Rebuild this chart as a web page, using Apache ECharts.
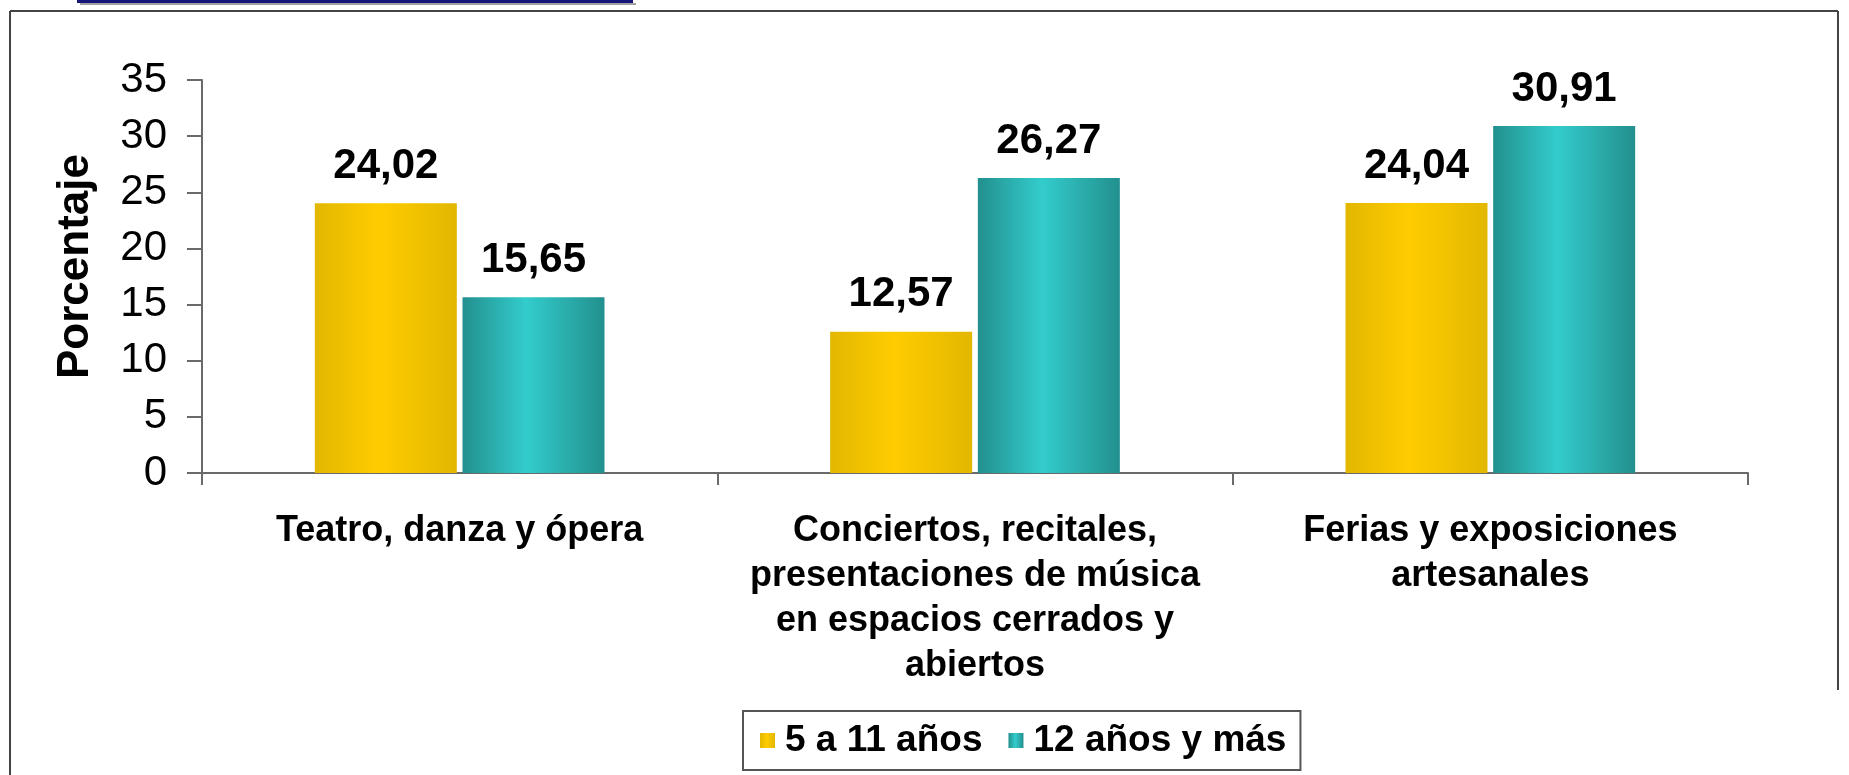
<!DOCTYPE html>
<html>
<head>
<meta charset="utf-8">
<script src="https://cdn.jsdelivr.net/npm/echarts@6/dist/echarts.min.js"></script>
<style>
  html, body { margin: 0; padding: 0; background: #fff; }
  #chart { width: 1849px; height: 775px; }
</style>
</head>
<body>
<div id="chart"></div>
<script>
  // categorias (con saltos de linea como en el original)
  const categorias = [
    'Teatro, danza y ópera',
    'Conciertos, recitales,\npresentaciones de música\nen espacios cerrados y\nabiertos',
    'Ferias y exposiciones\nartesanales'
  ]
  const serieNombres = ['5 a 11 años', '12 años y más']
  const ninos = [24.02, 12.57, 24.04]
  const mayores = [15.65, 26.27, 30.91]

  const fuente = "'Liberation Sans', Arial, sans-serif"

  function degradado (borde, centro) {
    return new echarts.graphic.LinearGradient(0, 0, 1, 0, [
      { offset: 0, color: borde },
      { offset: 0.45, color: centro },
      { offset: 1, color: borde }
    ])
  }

  const amarillo = degradado('#e2b700', '#ffcc00')
  const turquesa = degradado('#22908e', '#33cccc')

  let chart = echarts.init(document.getElementById('chart'))

  let etiqueta = {
    show: true,
    position: 'top',
    distance: 16,
    fontFamily: fuente,
    fontSize: 42,
    fontWeight: 'bold',
    color: '#000',
    formatter: function (p) {
      return p.value.toFixed(2).replace('.', ',')
    }
  }

  let options = {
    animation: false,
    backgroundColor: '#fff',
    grid: {
      left: 202,
      right: 101,
      top: 80,
      bottom: 302,
      containLabel: false
    },
    legend: {
      left: 743,
      top: 711,
      padding: [11, 14, 11, 17],
      icon: 'rect',
      itemWidth: 15,
      itemHeight: 15,
      itemGap: 26,
      borderColor: '#555',
      borderWidth: 2,
      textStyle: {
        fontFamily: fuente,
        fontSize: 37,
        fontWeight: 'bold',
        color: '#000',
        padding: [0, 0, 0, 5]
      },
      data: serieNombres
    },
    xAxis: {
      type: 'category',
      data: categorias,
      axisLine: { lineStyle: { color: '#6a6a6a', width: 2 } },
      axisTick: { show: true, length: 12, lineStyle: { color: '#6a6a6a', width: 2 } },
      axisLabel: {
        interval: 0,
        margin: 36,
        fontFamily: fuente,
        fontSize: 36,
        fontWeight: 'bold',
        lineHeight: 45,
        color: '#000'
      }
    },
    yAxis: {
      type: 'value',
      min: 0,
      max: 35,
      interval: 5,
      name: 'Porcentaje',
      nameLocation: 'middle',
      nameGap: 104,
      nameTextStyle: {
        fontFamily: fuente,
        fontSize: 44,
        fontWeight: 'bold',
        color: '#000',
        padding: [0, 0, 0, 20]
      },
      splitLine: { show: false },
      axisLine: { show: true, lineStyle: { color: '#6a6a6a', width: 2 } },
      axisTick: { show: true, length: 15, lineStyle: { color: '#6a6a6a', width: 2 } },
      axisLabel: {
        margin: 35,
        fontFamily: fuente,
        fontSize: 42,
        color: '#000'
      }
    },
    series: [
      {
        name: serieNombres[0],
        type: 'bar',
        barWidth: 142,
        barGap: '4%',
        itemStyle: { color: amarillo },
        label: etiqueta,
        data: ninos
      },
      {
        name: serieNombres[1],
        type: 'bar',
        barWidth: 142,
        barGap: '4%',
        itemStyle: { color: turquesa },
        label: etiqueta,
        data: mayores
      }
    ],
    graphic: [
      // franja azul de la diapositiva
      { type: 'rect', shape: { x: 80, y: 3, width: 556, height: 2 }, style: { fill: '#a0a0a0' } },
      { type: 'rect', shape: { x: 77, y: 0, width: 556, height: 3 }, style: { fill: '#15157a' } },
      // marco
      { type: 'line', shape: { x1: 10, y1: 11, x2: 1838, y2: 11 }, style: { stroke: '#444', lineWidth: 2 } },
      { type: 'line', shape: { x1: 10, y1: 11, x2: 10, y2: 775 }, style: { stroke: '#444', lineWidth: 2 } },
      { type: 'line', shape: { x1: 1838, y1: 11, x2: 1838, y2: 690 }, style: { stroke: '#444', lineWidth: 2 } }
    ]
  }

  chart.setOption(options)
</script>
</body>
</html>
